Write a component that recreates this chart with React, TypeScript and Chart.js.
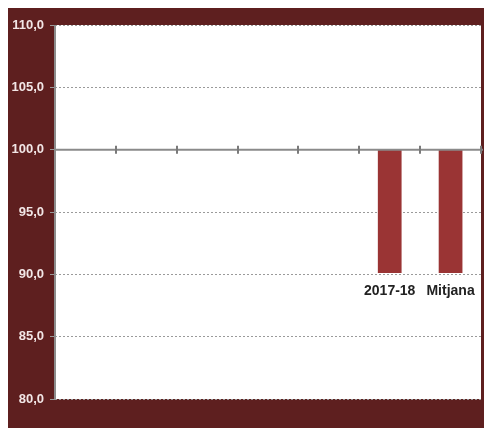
import React, { useEffect, useRef } from "react";
import { Chart, registerables } from "chart.js";

Chart.register(...registerables);

const categories: string[] = ["", "", "", "", "", "2017-18", "Mitjana"];
const values: (number | null)[] = [null, null, null, null, null, 90.1, 90.1];
const baseValue = 100;
const yMin = 80;
const yMax = 110;
const yStep = 5;

const BG = "#5e1f1f";
const BAR = "#9a3434";

const bgPlugin = {
  id: "bgPlugin",
  beforeDraw(chart: any) {
    const { ctx, chartArea } = chart;
    ctx.save();
    ctx.fillStyle = BG;
    ctx.fillRect(0, 0, chart.width, chart.height);
    ctx.fillStyle = "#ffffff";
    ctx.fillRect(chartArea.left, chartArea.top, chartArea.right - chartArea.left, chartArea.bottom - chartArea.top);
    ctx.restore();
  },
};

const axisPlugin = {
  id: "axisPlugin",
  afterDatasetsDraw(chart: any) {
    const { ctx, chartArea, scales } = chart;
    const x = scales.x;
    const y = scales.y;
    const yp = y.getPixelForValue(baseValue);
    ctx.save();
    // left axis line
    ctx.strokeStyle = "#8c8c8c";
    ctx.lineWidth = 2;
    ctx.beginPath();
    ctx.moveTo(chartArea.left, chartArea.top);
    ctx.lineTo(chartArea.left, chartArea.bottom);
    ctx.stroke();
    // category axis at 100
    ctx.strokeStyle = "#8a8a8a";
    ctx.lineWidth = 2;
    ctx.beginPath();
    ctx.moveTo(chartArea.left, yp);
    ctx.lineTo(chartArea.right + 2, yp);
    ctx.stroke();
    ctx.strokeStyle = "#7a7a7a";
    ctx.lineWidth = 2;
    const n = categories.length;
    for (let i = 1; i <= n; i++) {
      const px = Math.round((x.getPixelForValue(i - 1) + (i < n ? x.getPixelForValue(i) : 2 * x.getPixelForValue(i - 1) - x.getPixelForValue(i - 2))) / 2);
      ctx.beginPath();
      ctx.moveTo(px, yp - 4);
      ctx.lineTo(px, yp + 4);
      ctx.stroke();
    }
    // category labels below bar ends
    ctx.fillStyle = "#222222";
    ctx.font = "bold 14px 'Liberation Sans', Arial, sans-serif";
    ctx.textAlign = "center";
    ctx.textBaseline = "middle";
    values.forEach((v, i) => {
      if (v === null) return;
      const cx = x.getPixelForValue(i);
      const by = y.getPixelForValue(v);
      ctx.fillText(categories[i], cx, by + 18);
    });
    ctx.restore();
  },
};

export default function App() {
  const ref = useRef<HTMLCanvasElement | null>(null);
  useEffect(() => {
    document.documentElement.style.overflow = "hidden";
    const canvas = ref.current!;
    const chart = new Chart(canvas, {
      type: "bar",
      data: {
        labels: categories,
        datasets: [
          {
            data: values.map((v) => (v === null ? null : [baseValue, v])) as any,
            backgroundColor: BAR,
            borderWidth: 0,
            categoryPercentage: 1,
            barPercentage: 0.39,
          },
        ],
      },
      options: {
        animation: false,
        responsive: false,
        maintainAspectRatio: false,
        layout: { padding: { top: 17, bottom: 29, right: 11, left: 0 } },
        plugins: { legend: { display: false }, tooltip: { enabled: false } },
        scales: {
          x: { display: false, offset: true },
          y: {
            min: yMin,
            max: yMax,
            afterFit(scale: any) {
              scale.width = 47;
            },
            ticks: {
              stepSize: yStep,
              color: "#f2e6e6",
              font: { family: "'Liberation Sans', Arial, sans-serif", size: 13, weight: "bold" },
              padding: 6,
              callback: (v: any) => Number(v).toFixed(1).replace(".", ","),
            },
            grid: {
              color: (c: any) => (c.tick && c.tick.value === baseValue ? "rgba(0,0,0,0)" : "#9a9a9a"),
              tickColor: "#9a9a9a",
              tickLength: 5,
              lineWidth: 1,
            },
            border: { display: false, dash: [2, 2] },
          },
        },
      },
      plugins: [bgPlugin, axisPlugin],
    });
    return () => chart.destroy();
  }, []);
  return <canvas ref={ref} width={484} height={420} style={{ display: "block", width: 484, height: 420 }} />;
}
